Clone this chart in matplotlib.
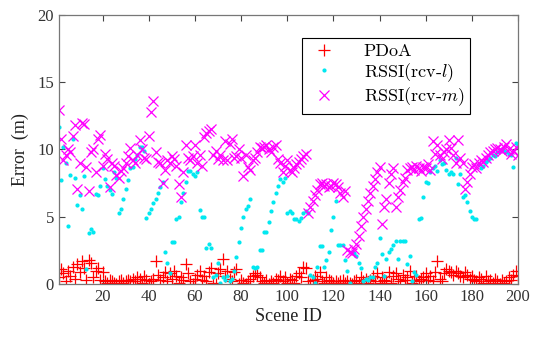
import numpy as np
import matplotlib.pyplot as plt

plt.rcParams['mathtext.fontset'] = 'cm'

scene_id = np.arange(1, 201)

pdoa = [
    0.5, 1.1, 0.8, 0.2, 1.0, 0.6, 1.3, 0.4, 1.5, 0.9, 1.7, 1.2, 0.3, 1.8, 1.6, 0.5, 1.0, 1.2, 0.3, 0.9,
    0.2, 0.1, 0.3, 0.2, 0.1, 0.0, 0.2, 0.3, 0.1, 0.2, 0.3, 0.2, 0.4, 0.2, 0.5, 0.4, 0.1, 0.6, 0.3, 0.0,
    0.2, 0.4, 1.7, 0.7, 0.3, 0.5, 0.9, 0.2, 0.8, 0.4, 1.0, 0.6, 0.1, 0.5, 0.3, 1.5, 0.8, 0.2, 0.0, 0.4,
    0.7, 1.0, 0.3, 0.6, 0.2, 0.9, 1.2, 0.1, 0.0, 0.8, 1.1, 1.9, 0.6, 1.0, 0.4, 0.2, 0.9, 1.1, 0.0, 0.3,
    0.1, 0.0, 0.2, 0.4, 0.6, 0.8, 0.7, 0.5, 0.2, 0.1, 0.3, 0.0, 0.2, 0.1, 0.4, 0.3, 0.6, 0.2, 0.5, 0.1,
    0.4, 0.3, 0.1, 0.6, 0.8, 0.5, 1.3, 1.2, 0.2, 0.0, 0.3, 0.6, 0.4, 0.9, 0.2, 0.1, 0.5, 0.3, 0.2, 0.1,
    0.2, 0.1, 0.2, 0.3, 0.1, 0.2, 0.1, 0.0, 0.2, 0.3, 0.1, 0.5, 0.2, 0.4, 0.1, 0.3, 0.6, 0.2, 0.8, 0.1,
    0.5, 0.3, 0.2, 0.9, 0.1, 0.6, 0.8, 0.4, 0.2, 0.7, 0.3, 0.5, 1.0, 0.1, 0.3, 0.6, 0.2, 0.4, 0.5, 0.8,
    0.3, 0.6, 0.2, 0.9, 1.7, 0.4, 0.2, 0.8, 1.1, 1.0, 0.9, 0.7, 1.0, 0.8, 0.6, 0.5, 0.9, 0.7, 0.4, 0.6,
    0.3, 0.2, 0.5, 0.4, 0.1, 0.6, 0.2, 0.3, 0.1, 0.4, 0.2, 0.0, 0.3, 0.1, 0.2, 0.5, 0.3, 0.7, 1.0, 0.6,
]

rssi_l = [
    11.7, 7.7, 10.2, 9.0, 4.3, 8.1, 10.8, 7.9, 5.9, 6.6, 5.6, 8.0, 1.1, 3.8, 4.1, 3.9, 6.7, 6.6, 7.3, 8.6,
    7.8, 7.3, 7.0, 6.7, 8.3, 7.9, 5.3, 5.6, 6.3, 7.1, 7.7, 8.6, 8.7, 9.3, 9.6, 10.2, 10.2, 9.9, 4.9, 5.3,
    5.6, 6.0, 6.3, 6.8, 7.2, 7.6, 2.4, 1.6, 0.8, 3.1, 3.1, 4.8, 5.0, 6.1, 6.8, 7.6, 8.4, 8.4, 8.2, 8.0,
    8.3, 5.5, 5.0, 5.0, 2.7, 3.0, 2.7, 0.5, 0.7, 1.6, 0.1, 0.5, 0.3, 0.6, 0.2, 0.4, 1.0, 2.0, 3.1, 4.2,
    5.0, 5.6, 5.8, 6.3, 1.3, 1.2, 1.3, 2.5, 2.5, 3.9, 3.9, 4.6, 5.4, 6.1, 6.8, 7.3, 7.8, 7.6, 7.9, 5.3,
    5.4, 5.3, 4.8, 4.8, 4.7, 4.9, 5.3, 5.4, 5.3, 0.7, 0.5, 0.1, 1.3, 2.8, 2.8, 1.3, 1.8, 2.4, 4.0, 5.0,
    6.2, 2.9, 2.9, 2.9, 1.8, 1.0, 0.1, 2.4, 2.3, 2.1, 1.6, 1.2, 0.2, 0.4, 0.3, 0.5, 0.5, 1.3, 1.6, 3.4,
    2.2, 0.6, 1.9, 2.4, 2.6, 2.9, 3.2, 1.9, 3.2, 3.2, 3.2, 1.5, 2.1, 0.2, 0.9, 0.7, 4.8, 4.9, 6.5, 7.6,
    7.5, 8.3, 8.6, 8.8, 8.4, 9.2, 8.9, 9.0, 8.5, 8.2, 8.3, 8.2, 9.4, 7.4, 8.2, 6.5, 6.6, 6.1, 5.4, 5.0,
    4.8, 4.8, 8.9, 8.6, 8.8, 9.1, 9.2, 9.4, 9.6, 9.5, 9.8, 9.9, 10.0, 9.9, 9.8, 9.7, 9.6, 8.7, 10.5, 10.3,
]

rssi_m = [
    12.9, 10.8, 9.2, 9.6, 10.0, 9.8, 11.0, 11.8, 7.1, 9.0, 12.0, 11.9, 8.7, 6.9, 9.8, 10.0, 8.3, 10.8, 11.1, 8.8,
    9.7, 9.3, 7.2, 9.0, 8.8, 8.1, 7.9, 8.4, 8.6, 9.0, 9.5, 10.1, 9.2, 9.0, 9.6, 10.7, 10.0, 9.4, 9.3, 11.0,
    12.8, 13.6, 9.8, 9.1, 9.0, 7.5, 8.5, 9.2, 9.0, 9.5, 9.3, 8.8, 7.4, 6.5, 8.3, 10.3, 9.4, 9.2, 9.5, 10.3,
    9.0, 9.6, 8.8, 10.9, 11.2, 11.4, 11.5, 9.6, 9.9, 9.3, 9.6, 9.2, 10.6, 9.2, 10.4, 10.8, 9.4, 9.5, 10.0, 9.4,
    8.0, 9.6, 8.7, 8.5, 9.2, 9.4, 9.8, 10.2, 10.1, 10.2, 10.3, 10.0, 9.8, 10.2, 10.3, 9.3, 9.0, 8.3, 8.8, 9.2,
    8.5, 8.3, 8.6, 8.9, 9.1, 9.3, 9.5, 9.7, 5.3, 5.7, 6.2, 6.6, 7.0, 7.4, 7.5, 7.3, 7.4, 7.2, 7.3, 7.5,
    7.4, 7.2, 6.8, 6.5, 6.9, 2.5, 2.4, 2.3, 2.6, 3.0, 3.6, 4.3, 5.0, 5.6, 6.2, 6.8, 7.3, 7.8, 8.3, 8.7,
    4.5, 5.7, 6.3, 7.5, 8.2, 8.6, 5.7, 6.5, 7.0, 7.6, 7.9, 8.5, 8.6, 8.7, 8.5, 8.8, 8.6, 8.4, 8.7, 8.6,
    8.9, 8.5, 10.6, 9.7, 10.3, 9.6, 9.3, 9.8, 10.0, 10.7, 10.1, 9.6, 9.0, 10.7, 9.4, 9.0, 7.1, 7.6, 8.2, 8.7,
    8.9, 8.6, 9.0, 9.2, 9.1, 9.4, 9.6, 9.8, 9.9, 10.0, 10.1, 10.0, 9.9, 10.2, 10.4, 10.0, 9.7, 9.9, 10.2, 9.6,
]

fig = plt.figure(figsize=(5.34, 3.39), dpi=100)
ax = fig.add_axes([0.110, 0.162, 0.860, 0.794])

ax.plot(scene_id, pdoa, '+', color='red', markersize=8, markeredgewidth=0.9,
        label='PDoA')
ax.plot(scene_id, rssi_l, '.', color='#00e8f0', markersize=4,
        label=r'RSSI(rcv-$l$)')
ax.plot(scene_id, rssi_m, 'x', color='magenta', markersize=6.5, markeredgewidth=0.9,
        label=r'RSSI(rcv-$m$)')

ax.set_xlim(1, 200)
ax.set_ylim(0, 20)
ax.set_xticks(range(20, 201, 20))
ax.set_yticks([0, 5, 10, 15, 20])

tick_font = {'family': 'Liberation Serif', 'size': 12}
ax.set_xticklabels([str(v) for v in range(20, 201, 20)], fontdict=tick_font)
ax.set_yticklabels(['0', '5', '10', '15', '20'], fontdict=tick_font)
ax.tick_params(direction='in', top=True, right=True, length=4,
               colors='#444444', labelcolor='#333333', width=0.8)
for s in ax.spines.values():
    s.set_color('#777777')
    s.set_linewidth(0.9)

ax.set_xlabel('Scene ID', family='Liberation Serif', fontsize=13, color='#222222',
              labelpad=2)
ax.set_ylabel('Error  (m)', family='Liberation Serif', fontsize=13, color='#222222',
              labelpad=6)

leg = ax.legend(loc='upper right', bbox_to_anchor=(0.895, 0.914), borderaxespad=0,
                fancybox=False, edgecolor='black', framealpha=1, borderpad=0.3,
                handletextpad=1.3, labelspacing=0.1, handlelength=1.8,
                prop={'family': 'cmr10', 'size': 13})
leg.get_frame().set_linewidth(0.8)

fig.savefig('out.png', dpi=100)
